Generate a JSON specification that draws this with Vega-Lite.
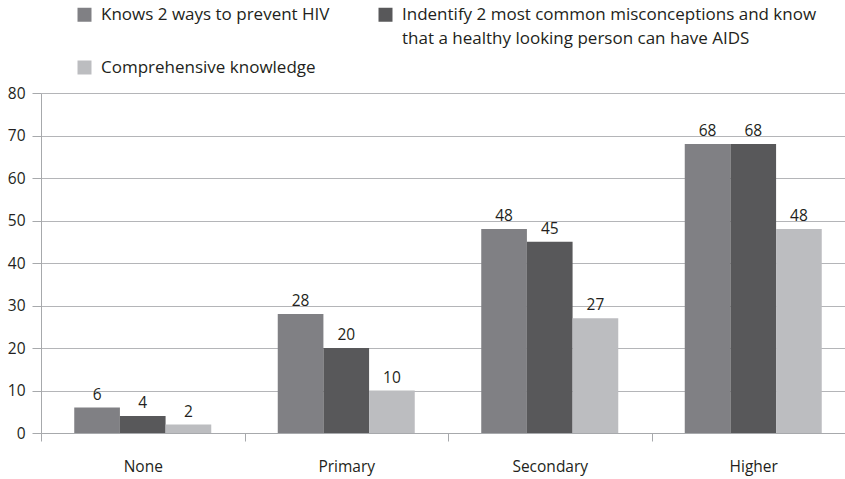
{
  "$schema": "https://vega.github.io/schema/vega-lite/v6.json",
  "width": 814,
  "height": 340,
  "autosize": "none",
  "padding": {"left": 41, "top": 93, "right": 0, "bottom": 46},
  "background": "white",
  "config": {
    "font": "Open Sans",
    "view": {"stroke": null},
    "axis": {"labelFont": "Open Sans", "labelFontSize": 15.5, "labelColor": "#231f20", "domainColor": "#a7a9ac", "tickColor": "#a7a9ac", "gridColor": "#b4b5b8", "title": null}
  },
  "data": {
    "values": [
      {"edu": "None", "series": "Knows 2 ways to prevent HIV", "value": 6},
      {"edu": "None", "series": "Indentify 2 most common misconceptions and know that a healthy looking person can have AIDS", "value": 4},
      {"edu": "None", "series": "Comprehensive knowledge", "value": 2},
      {"edu": "Primary", "series": "Knows 2 ways to prevent HIV", "value": 28},
      {"edu": "Primary", "series": "Indentify 2 most common misconceptions and know that a healthy looking person can have AIDS", "value": 20},
      {"edu": "Primary", "series": "Comprehensive knowledge", "value": 10},
      {"edu": "Secondary", "series": "Knows 2 ways to prevent HIV", "value": 48},
      {"edu": "Secondary", "series": "Indentify 2 most common misconceptions and know that a healthy looking person can have AIDS", "value": 45},
      {"edu": "Secondary", "series": "Comprehensive knowledge", "value": 27},
      {"edu": "Higher", "series": "Knows 2 ways to prevent HIV", "value": 68},
      {"edu": "Higher", "series": "Indentify 2 most common misconceptions and know that a healthy looking person can have AIDS", "value": 68},
      {"edu": "Higher", "series": "Comprehensive knowledge", "value": 48}
    ]
  },
  "encoding": {
    "x": {
      "field": "edu", "type": "nominal", "sort": ["None", "Primary", "Secondary", "Higher"],
      "scale": {"paddingInner": 0, "paddingOuter": 0},
      "axis": {"labelAngle": 0, "tickBand": "extent", "tickSize": 8, "labelPadding": 18}
    },
    "xOffset": {
      "field": "series", "type": "nominal",
      "sort": ["Knows 2 ways to prevent HIV", "Indentify 2 most common misconceptions and know that a healthy looking person can have AIDS", "Comprehensive knowledge"],
      "scale": {"paddingInner": 0, "paddingOuter": 0.728}
    },
    "y": {
      "field": "value", "type": "quantitative",
      "scale": {"domain": [0, 80]},
      "axis": {"values": [0, 10, 20, 30, 40, 50, 60, 70, 80], "tickSize": 9, "labelPadding": 7, "grid": true, "domain": true}
    }
  },
  "layer": [
    {
      "mark": {"type": "bar"},
      "encoding": {
        "color": {
          "field": "series", "type": "nominal",
          "sort": ["Knows 2 ways to prevent HIV", "Comprehensive knowledge", "Indentify 2 most common misconceptions and know that a healthy looking person can have AIDS"],
          "scale": {"range": ["#808084", "#bcbdc0", "#58585a"]},
          "legend": {
            "title": null, "orient": "none", "legendX": 35, "legendY": -87, "columns": 2,
            "symbolType": "square", "symbolSize": 196, "symbolStrokeWidth": 0, "symbolOpacity": 1,
            "labelFont": "Open Sans", "labelFontSize": 17, "labelColor": "#231f20", "labelLimit": 600,
            "labelBaseline": "middle", "labelOffset": 8, "columnPadding": 47, "rowPadding": 11,
            "labelExpr": "indexof(datum.label, 'Indentify') == 0 ? ['Indentify 2 most common misconceptions and know', 'that a healthy looking person can have AIDS'] : [datum.label, '']",
            "encode": {"labels": {"update": {"lineHeight": {"value": 24}}}}
          }
        }
      }
    },
    {
      "mark": {"type": "text", "baseline": "bottom", "dy": -5, "fontSize": 15.5, "color": "#231f20"},
      "encoding": {"text": {"field": "value", "type": "quantitative"}}
    }
  ]
}
